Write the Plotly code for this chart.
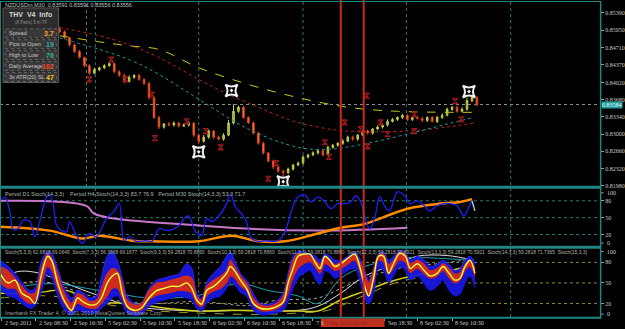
import plotly.graph_objects as go

W, H = 625, 329
FONT = "Liberation Sans"

# ---------------- main price data (NZDUSDm, M30) ----------------
closes = [0.8502, 0.8490, 0.8476, 0.8463, 0.8451, 0.8435, 0.8420, 0.8427, 0.8431, 0.8435,
          0.8439, 0.8423, 0.8416, 0.8404, 0.8412, 0.8416, 0.8408, 0.8400, 0.8372, 0.8333,
          0.8314, 0.8320, 0.8318, 0.8322, 0.8316, 0.8318, 0.8322, 0.8298, 0.8286, 0.8294,
          0.8306, 0.8294, 0.8290, 0.8298, 0.8322, 0.8345, 0.8353, 0.8333, 0.8322, 0.8302,
          0.8282, 0.8263, 0.8247, 0.8235, 0.8227, 0.8224, 0.8231, 0.8239, 0.8243, 0.8255,
          0.8259, 0.8263, 0.8267, 0.8259, 0.8274, 0.8278, 0.8282, 0.8286, 0.8294, 0.8290,
          0.8298, 0.8306, 0.8302, 0.8310, 0.8314, 0.8318, 0.8325, 0.8329, 0.8333, 0.8337,
          0.8329, 0.8333, 0.8331, 0.8327, 0.8333, 0.8325, 0.8333, 0.8337, 0.8349, 0.8353,
          0.8345, 0.8349, 0.8366, 0.8372, 0.8358]
wick_up_pips = [4, 3, 2, 3, 3, 2, 3, 4, 2, 3, 3, 2, 3, 3, 4, 2, 3, 2, 4, 3,
                3, 2, 4, 3, 2, 3, 3, 2, 3, 4, 3, 2, 3, 4, 6, 14, 3, 3, 2, 3,
                3, 3, 2, 3, 2, 3, 3, 2, 3, 3, 2, 3, 3, 2, 3, 3, 2, 4, 3, 3,
                2, 3, 3, 2, 3, 3, 4, 3, 2, 3, 3, 2, 3, 3, 2, 3, 3, 4, 3, 2,
                3, 4, 6, 5, 3]
wick_dn_pips = [3, 3, 4, 3, 2, 3, 3, 2, 3, 3, 2, 3, 3, 4, 2, 3, 3, 3, 4, 3,
                4, 3, 2, 3, 3, 2, 3, 4, 6, 3, 3, 3, 2, 3, 2, 3, 3, 3, 2, 3,
                3, 3, 3, 4, 3, 8, 3, 3, 2, 3, 3, 2, 3, 3, 2, 3, 3, 3, 2, 3,
                3, 2, 3, 3, 2, 3, 3, 2, 3, 3, 3, 3, 2, 3, 3, 2, 3, 3, 2, 3,
                3, 2, 3, 3, 3]
first_open = 0.8508
bar_x = list(range(12, 12 + len(closes)))
opens = [first_open] + closes[:-1]
highs = [max(o, c) + u * 1e-4 for o, c, u in zip(opens, closes, wick_up_pips)]
lows = [min(o, c) - d * 1e-4 for o, c, d in zip(opens, closes, wick_dn_pips)]

# moving averages
ma_yellow_x = [12, 20, 26, 32, 40, 50, 60, 70, 80, 95.4]
ma_yellow_v = [0.8494, 0.8482, 0.8474, 0.8467, 0.8431, 0.8398, 0.8372, 0.8353, 0.8345, 0.8343]
ma_red_x = [12, 20, 26, 32, 40, 46, 52, 58, 64, 70, 82, 90, 95.4]
ma_red_v = [0.8510, 0.8494, 0.8476, 0.8451, 0.8408, 0.8378, 0.8353, 0.8329, 0.8314, 0.8306, 0.8306, 0.8314, 0.8322]
ma_cyan_x = [12, 20, 26, 31.4, 40, 50, 60, 66, 72, 82, 90, 95.4]
ma_cyan_v = [0.8490, 0.8467, 0.8447, 0.8421, 0.8369, 0.8310, 0.8274, 0.8270, 0.8278, 0.8300, 0.8320, 0.8333]

# signal markers
big_mark_x = [46.6, 40, 57, 94.4]
big_mark_v = [0.8386, 0.8265, 0.8206, 0.8384]
small_mark_x = [22.4, 18, 25.2, 30.6, 31.2, 37.6, 41.4, 44.4, 54, 55.6, 65.4, 66.2, 73.8,
                69.4, 76.6, 72.6, 78, 74, 83.4, 83.4, 91.6, 92.8]
small_mark_v = [0.8447, 0.8408, 0.8408, 0.8378, 0.8292, 0.8325, 0.8306, 0.8274, 0.8212, 0.8243,
                0.8284, 0.8255, 0.8376, 0.8323, 0.8323, 0.8310, 0.8300, 0.8276, 0.8339, 0.8306,
                0.8365, 0.8329]

current_price = 0.83584
price_ticks = [0.85390, 0.85050, 0.84710, 0.84370, 0.84020, 0.83680, 0.83340,
               0.83000, 0.82660, 0.82320, 0.81980]

# ---------------- sub window 1: multi-period stochastic ----------------
m30_x = [0.4, 1, 2, 2.6, 3.6, 4.6, 6, 7, 8, 9, 9.8, 10.6, 11.4, 12.4, 13.4, 14, 15.4, 16.6, 18, 19.4,
         21.4, 23, 24, 25, 26, 27.4, 29.4, 30.6, 32, 34, 36, 37.4, 38, 39.4, 40.6, 41.6, 42.6, 44, 45.4, 46.4,
         47.4, 48.6, 49.6, 50.6, 52, 53.4, 54.6, 56, 57.4, 58.6, 60, 61.4, 62.6, 64, 65.4, 66.6, 68, 69.4, 70.6, 71.6,
         72.6, 73.4, 74.4, 75.4, 76.4, 77.4, 78.4, 80, 81.4, 82.6, 84, 85.4, 86.4, 88, 89.4, 90.6, 92, 93.4, 94.4, 95]
m30_v = [83, 87, 60, 30, 30, 45, 43, 16, 43, 78, 92, 78, 36, 27, 25, 43, 18, 4, 22, 16,
         48, 62, 75, 9, 16, 8, 9, 8, 30, 27, 36, 52, 53, 25, 18, 48, 43, 53, 71, 92,
         69, 57, 43, 13, 8, 9, 8, 9, 25, 60, 87, 90, 78, 87, 78, 66, 75, 75, 78, 89,
         78, 53, 30, 48, 87, 71, 62, 96, 89, 75, 80, 71, 62, 71, 75, 75, 71, 53, 69, 80]
m30_tail_x = [95, 95.6]
m30_tail_v = [80, 62]
d1_x = [0, 17.4, 19, 40, 64, 82]
d1_v = [80, 71, 57, 36, 27, 32]
h4_x = [0, 10, 16.6, 20, 26.6, 30.6, 40, 46.6, 52, 57.4, 64, 68.6, 73.4, 82, 88.6, 92.6, 95]
h4_v = [34, 27, 13, 18, 9, 8, 8, 18, 8, 8, 22, 32, 39, 66, 75, 78, 83]

# ---------------- sub window 2: stochastic ribbon ----------------
rib_x = [0, 1.6, 3, 4.4, 6, 7, 8.4, 9.6, 10.4, 11.6, 13, 14.4, 15.6, 16.8, 18, 19.4, 20.4, 21.6, 22.6, 23.6,
         24.6, 25.6, 27, 28.4, 30, 31.6, 33, 34.4, 36, 37.6, 38.6, 39.6, 40.6, 41.6, 43, 44.4, 45.6, 46.4, 47.2, 48.4,
         49.6, 51, 52.4, 54, 55.6, 57, 58, 59, 60, 61.2, 62.4, 63.6, 64.4, 65.4, 66.4, 67.4, 68.6, 70, 71.4, 72.4,
         73.4, 74.2, 75.2, 76.2, 77.2, 78.2, 79.2, 80.4, 81.6, 82.6, 84, 85.4, 86.6, 88, 89.2, 90.4, 91.6, 92.6, 93.6, 94.6,
         95.6]
blue_hi = [83, 74, 64, 50, 39, 42, 83, 96, 93, 71, 42, 28, 39, 35, 28, 31, 57, 89, 95, 83,
           57, 31, 20, 20, 42, 54, 57, 60, 63, 78, 71, 35, 28, 50, 64, 74, 89, 95, 83, 64,
           54, 34, 20, 19, 23, 35, 64, 89, 96, 95, 92, 89, 83, 92, 89, 83, 83, 89, 95, 86,
           68, 54, 71, 93, 95, 83, 89, 97, 95, 83, 89, 83, 74, 77, 83, 77, 68, 71, 83, 89, 78]
red_hi = [74, 68, 57, 45, 34, 35, 74, 92, 86, 64, 35, 20, 34, 31, 23, 25, 42, 64, 71, 68,
          50, 25, 18, 19, 39, 50, 51, 54, 57, 60, 57, 31, 25, 45, 54, 60, 68, 83, 74, 60,
          50, 28, 18, 16, 20, 31, 57, 83, 93, 92, 89, 83, 77, 89, 83, 77, 80, 86, 92, 81,
          63, 50, 68, 90, 92, 77, 83, 95, 92, 78, 83, 77, 68, 71, 78, 71, 63, 65, 77, 83, 71]
red_lo = [50, 42, 42, 28, 20, 23, 50, 74, 68, 42, 20, 9, 20, 16, 13, 13, 20, 31, 42, 42,
          28, 13, 9, 10, 25, 32, 34, 36, 39, 38, 35, 20, 15, 31, 38, 42, 50, 60, 57, 45,
          39, 18, 10, 9, 12, 19, 35, 57, 71, 78, 81, 71, 64, 78, 74, 68, 71, 77, 83, 68,
          42, 31, 50, 83, 80, 63, 71, 83, 80, 65, 71, 63, 57, 60, 68, 57, 50, 54, 68, 74, 60]
blue_lo = [42, 31, 28, 20, 13, 16, 39, 64, 57, 31, 10, 3, 10, 7, 6, 6, 13, 20, 28, 31,
           20, 6, 3, 4, 16, 22, 25, 28, 31, 28, 25, 13, 9, 20, 28, 31, 42, 52, 47, 36,
           31, 10, 4, 4, 6, 10, 23, 42, 57, 64, 68, 54, 48, 68, 64, 57, 61, 68, 71, 54,
           28, 19, 35, 71, 68, 50, 60, 74, 68, 54, 60, 48, 39, 45, 54, 39, 31, 34, 50, 60, 42]
fast_yel = [64, 50, 54, 35, 28, 20, 64, 89, 83, 50, 23, 10, 28, 22, 18, 19, 28, 50, 60, 64,
            35, 16, 10, 13, 28, 39, 42, 45, 45, 50, 42, 25, 19, 39, 45, 54, 64, 74, 68, 54,
            42, 20, 13, 12, 15, 22, 50, 71, 89, 92, 92, 78, 71, 89, 83, 74, 78, 86, 92, 74,
            45, 31, 57, 89, 89, 64, 78, 93, 89, 71, 78, 68, 60, 64, 74, 64, 54, 57, 74, 83, 64]
slow_white_x = [0, 4, 8, 13.4, 20, 26.6, 40, 50, 60, 64, 68.6, 73.4, 80, 84, 90, 95.4]
slow_white_v = [57, 67, 64, 49, 31, 16, 9, 10, 10, 16, 35, 60, 78, 89, 90, 83]
slow_grey_x = [0, 8, 20, 30, 40, 50, 56, 64, 68.6, 73.4, 82, 88, 93.4]
slow_grey_v = [42, 52, 28, 20, 23, 17, 25, 28, 42, 57, 74, 78, 83]
slow_cyan_x = [0, 10, 20, 30, 40, 48, 54, 60, 64, 68.6, 73.4, 78.6, 82, 94.6]
slow_cyan_v = [39, 49, 39, 28, 32, 49, 39, 31, 20, 57, 74, 83, 87, 83]
slow_yel1_x = [0, 6.6, 13.4, 18.6, 26.6, 33.4, 40, 46.6, 53.4, 60, 64, 68.6, 73.4, 78.6, 83.4, 90, 94.6]
slow_yel1_v = [35, 35, 39, 23, 20, 13, 9, 10, 9, 9, 9, 25, 38, 52, 61, 67, 75]
slow_yel2_x = [0, 10, 20, 30, 40, 52, 60, 66, 73.4, 80, 90, 94.6]
slow_yel2_v = [28, 31, 20, 10, 6, 4, 6, 10, 32, 51, 65, 71]

osc_ticks = [80, 50, 20]
osc_levels = [80, 50, 20]

# time axis (the 7 Sep 10:30 label sits under the highlighted date box and is not shown)
time_pos = [0.4, 7.2, 14.2, 21.2, 28.2, 35.2, 42.2, 49.2, 56.2, 63, 77.4, 84, 91]
time_labels = ["2 Sep 2011", "2 Sep 08:30", "2 Sep 16:30", "5 Sep 02:30", "5 Sep 10:30",
               "5 Sep 18:30", "6 Sep 02:30", "6 Sep 10:30", "6 Sep 18:30", "7 S",
               "Sep 18:30", "8 Sep 02:30", "8 Sep 10:30"]
day_grid = [19.2, 40, 61, 81.8, 102.8]
session_line = 17.4
red_vlines = [68.6, 73.2]

# ---------------- figure ----------------
def py(p):
    return 1 - p / H

def px(p):
    return p / W

TEAL = "#1F8585"
fig = go.Figure()

fig.add_trace(go.Scatter(x=ma_yellow_x, y=ma_yellow_v, mode="lines", line=dict(color="#C8C81E", width=1, dash="dash", shape="spline"), xaxis="x", yaxis="y", hoverinfo="skip"))
fig.add_trace(go.Scatter(x=ma_red_x, y=ma_red_v, mode="lines", line=dict(color="#B0281E", width=1, dash="dot", shape="spline"), xaxis="x", yaxis="y", hoverinfo="skip"))
fig.add_trace(go.Scatter(x=ma_cyan_x, y=ma_cyan_v, mode="lines", line=dict(color="#1E9A9A", width=1, dash="dot", shape="spline"), xaxis="x", yaxis="y", hoverinfo="skip"))

fig.add_trace(go.Candlestick(
    x=bar_x, open=opens, high=highs, low=lows, close=closes, xaxis="x", yaxis="y",
    increasing=dict(line=dict(color="#C8D040", width=1), fillcolor="#7AB048"),
    decreasing=dict(line=dict(color="#E0401C", width=1), fillcolor="#FF9020"),
    whiskerwidth=0, hoverinfo="skip"))

fig.add_trace(go.Scatter(x=small_mark_x, y=small_mark_v, mode="markers", xaxis="x", yaxis="y",
                         marker=dict(symbol="hourglass-open", size=5, color="#A01A1A", line=dict(width=1.2, color="#A01A1A")), hoverinfo="skip"))
fig.add_trace(go.Scatter(x=big_mark_x, y=big_mark_v, mode="markers", xaxis="x", yaxis="y",
                         marker=dict(symbol="star-square-open-dot", size=11, color="#F0F0F0", line=dict(width=2, color="#E8E8E8")), hoverinfo="skip"))

# sub 1
fig.add_trace(go.Scatter(x=d1_x, y=d1_v, mode="lines", line=dict(color="#C878C8", width=2, shape="spline"), xaxis="x2", yaxis="y2", hoverinfo="skip"))
fig.add_trace(go.Scatter(x=h4_x, y=h4_v, mode="lines", line=dict(color="#FF8C00", width=2.5, shape="spline"), xaxis="x2", yaxis="y2", hoverinfo="skip"))
fig.add_trace(go.Scatter(x=m30_x, y=m30_v, mode="lines", line=dict(color="#1E1EFF", width=1.3, shape="spline"), xaxis="x2", yaxis="y2", hoverinfo="skip"))
fig.add_trace(go.Scatter(x=m30_tail_x, y=m30_tail_v, mode="lines", line=dict(color="#A0E0F0", width=1.3), xaxis="x2", yaxis="y2", hoverinfo="skip"))

# sub 2
fig.add_trace(go.Scatter(x=slow_white_x, y=slow_white_v, mode="lines", line=dict(color="#E0E0E0", width=1, shape="spline"), xaxis="x3", yaxis="y3", hoverinfo="skip"))
fig.add_trace(go.Scatter(x=slow_grey_x, y=slow_grey_v, mode="lines", line=dict(color="#A8A8A8", width=1, dash="dot", shape="spline"), xaxis="x3", yaxis="y3", hoverinfo="skip"))
fig.add_trace(go.Scatter(x=slow_cyan_x, y=slow_cyan_v, mode="lines", line=dict(color="#1EA0B4", width=1, shape="spline"), xaxis="x3", yaxis="y3", hoverinfo="skip"))
fig.add_trace(go.Scatter(x=slow_yel1_x, y=slow_yel1_v, mode="lines", line=dict(color="#D0D020", width=1.5, shape="spline"), xaxis="x3", yaxis="y3", hoverinfo="skip"))
fig.add_trace(go.Scatter(x=slow_yel2_x, y=slow_yel2_v, mode="lines", line=dict(color="#A0A018", width=1, dash="dash", shape="spline"), xaxis="x3", yaxis="y3", hoverinfo="skip"))
fig.add_trace(go.Scatter(x=rib_x, y=blue_lo, mode="lines", line=dict(color="#1414E6", width=1, shape="spline"), xaxis="x3", yaxis="y3", hoverinfo="skip"))
fig.add_trace(go.Scatter(x=rib_x, y=blue_hi, mode="lines", fill="tonexty", fillcolor="rgba(24,24,230,0.92)", line=dict(color="#2828FF", width=1, shape="spline"), xaxis="x3", yaxis="y3", hoverinfo="skip"))
fig.add_trace(go.Scatter(x=rib_x, y=red_lo, mode="lines", line=dict(color="#D02814", width=1, shape="spline"), xaxis="x3", yaxis="y3", hoverinfo="skip"))
fig.add_trace(go.Scatter(x=rib_x, y=red_hi, mode="lines", fill="tonexty", fillcolor="rgba(214,44,20,0.95)", line=dict(color="#E03018", width=1, shape="spline"), xaxis="x3", yaxis="y3", hoverinfo="skip"))
fig.add_trace(go.Scatter(x=rib_x, y=fast_yel, mode="lines", line=dict(color="#FFFF3C", width=1.4, shape="spline"), xaxis="x3", yaxis="y3", hoverinfo="skip"))

XR = [0, 120.8]
XD = [0, 604 / W]
tickfont = dict(family="Liberation Serif", size=6, color="#C8C8C8")

fig.update_layout(
    width=W, height=H, margin=dict(l=0, r=0, t=0, b=0),
    paper_bgcolor="black", plot_bgcolor="black", showlegend=False, boxgap=0.55,
    xaxis=dict(domain=XD, range=XR, anchor="y", showticklabels=False, showgrid=False, zeroline=False,
               ticks="", rangeslider=dict(visible=False), fixedrange=True),
    xaxis2=dict(domain=XD, range=XR, anchor="y2", matches="x", showticklabels=False, showgrid=False, zeroline=False, ticks=""),
    xaxis3=dict(domain=XD, range=XR, anchor="y3", matches="x", showticklabels=False, showgrid=False, zeroline=False,
                tickvals=time_pos, ticks="outside", ticklen=3, tickcolor="#A0A0A0", tickwidth=1),
    yaxis=dict(domain=[py(188), py(2)], range=[0.81960, 0.85606], anchor="x", side="right",
               tickvals=price_ticks, ticktext=[f"{v:.5f}" for v in price_ticks],
               ticks="outside", ticklen=3, tickcolor="#A0A0A0", tickfont=tickfont,
               showgrid=False, zeroline=False, showline=False),
    yaxis2=dict(domain=[py(247.3), py(190.7)], range=[0, 100], anchor="x2", side="right",
                tickvals=osc_ticks, ticktext=[str(v) for v in osc_ticks],
                ticks="outside", ticklen=3, tickcolor="#A0A0A0", tickfont=tickfont,
                showgrid=False, zeroline=False),
    yaxis3=dict(domain=[py(319.1), py(250.2)], range=[0, 100], anchor="x3", side="right",
                tickvals=osc_ticks, ticktext=[str(v) for v in osc_ticks],
                ticks="outside", ticklen=3, tickcolor="#A0A0A0", tickfont=tickfont,
                showgrid=False, zeroline=False),
)

shapes = []
for gx in day_grid:
    shapes.append(dict(type="line", xref="x", yref="paper", x0=gx, x1=gx, y0=py(319), y1=py(2),
                       line=dict(color="#2A7A7A", width=1, dash="dot"), layer="below"))
shapes.append(dict(type="line", xref="x", yref="paper", x0=session_line, x1=session_line, y0=py(188), y1=py(2),
                   line=dict(color="#6A7A7A", width=1, dash="dot"), layer="below"))
for lv in osc_levels:
    shapes.append(dict(type="line", xref="paper", yref="y2", x0=0, x1=XD[1], y0=lv, y1=lv,
                       line=dict(color="#2A7A7A", width=1, dash="dot"), layer="below"))
    shapes.append(dict(type="line", xref="paper", yref="y3", x0=0, x1=XD[1], y0=lv, y1=lv,
                       line=dict(color="#8A8A30", width=1, dash="dot"), layer="below"))
shapes.append(dict(type="line", xref="paper", yref="y", x0=0, x1=XD[1], y0=current_price, y1=current_price,
                   line=dict(color="#8C8C8C", width=1, dash="dot"), layer="below"))
for rx in red_vlines:
    shapes.append(dict(type="line", xref="x", yref="paper", x0=rx, x1=rx, y0=py(319), y1=py(0),
                       line=dict(color="#C82A1E", width=2), layer="above"))
for yy, wd in [(1.5, 1), (188.5, 3), (248.7, 3), (319.6, 2)]:
    shapes.append(dict(type="line", xref="paper", yref="paper", x0=0, x1=px(605), y0=py(yy), y1=py(yy),
                       line=dict(color=TEAL, width=wd), layer="above"))
shapes.append(dict(type="line", xref="paper", yref="paper", x0=px(604.5), x1=px(604.5), y0=py(320.5), y1=py(1),
                   line=dict(color=TEAL, width=1.5), layer="above"))
shapes.append(dict(type="line", xref="paper", yref="paper", x0=px(0.5), x1=px(0.5), y0=py(320.5), y1=py(1),
                   line=dict(color=TEAL, width=1), layer="above"))
for yy in [194, 244.5, 253, 316]:
    shapes.append(dict(type="line", xref="paper", yref="paper", x0=px(605), x1=px(607.5), y0=py(yy), y1=py(yy),
                       line=dict(color="#A0A0A0", width=1), layer="above"))
# highlighted date box on the time axis
shapes.append(dict(type="rect", xref="paper", yref="paper", x0=px(323), x1=px(387), y0=py(329), y1=py(320.5),
                   fillcolor="#C0301E", line=dict(width=0), layer="above"))

shapes.append(dict(type="rect", xref="paper", yref="paper", x0=px(3), x1=px(59), y0=py(83), y1=py(8),
                   fillcolor="#2C2C2C", line=dict(color="#5A5A5A", width=1), layer="above"))
rows = [(29, 38), (40, 49), (51, 60), (62, 71), (73, 82)]
for r0, r1 in rows:
    shapes.append(dict(type="rect", xref="paper", yref="paper", x0=px(5), x1=px(57), y0=py(r1), y1=py(r0),
                       fillcolor="#383838", line=dict(color="#666666", width=1, dash="dot"), layer="above"))
fig.update_layout(shapes=shapes)

ann = []
def text(x, y, s, size=5.5, color="#B8B8B8", anchor="left", family=FONT, bold=False):
    ann.append(dict(xref="paper", yref="paper", x=px(x), y=py(y), text=(f"<b>{s}</b>" if bold else s),
                    showarrow=False, xanchor=anchor, yanchor="middle",
                    font=dict(family=family, size=size, color=color)))

text(3, 5, "NZDUSDm,M30  0.83591 0.83591 0.83556 0.83556", size=5.5, color="#C0C0C0")
text(31, 15, "THV  V4  Info", size=7, color="#D8D8D8", anchor="center", bold=True)
text(31, 23, "(8 Pairs) 5 in TF", size=4.5, color="#909090", anchor="center")
labels = ["Spread", "Pips to Open", "High to Low", "Daily Average", "3x ATR(20) SL"]
values = ["3.7", "19", "76", "102", "47"]
vcolors = ["#FFA020", "#2AB0A0", "#2AB0A0", "#FF4A2A", "#F0C020"]
for (r0, r1), lb, vv, vc in zip(rows, labels, values, vcolors):
    text(7, (r0 + r1) / 2, lb, size=5.5, color="#C8C8C8")
    text(56, (r0 + r1) / 2, vv, size=7, color=vc, anchor="right", bold=True)

text(3, 195, "Period D1 Stoch(14,3,3)    Period H4 Stoch(14,3,3) 83.7 76.9   Period M30 Stoch(14,3,3) 53.3 71.7",
     size=5.5, color="#A8B8A8")
text(3, 254, "Stoch(5,3,3) 62.6818 69.0646  Stoch(7,3,3) 56.3868 69.1677  Stoch(9,3,3) 59.2818 70.8860  "
             "Stoch(10,3,3) 59.2818 70.8860  Stoch(11,3,3) 59.2818 70.8860  Stoch(12,3,3) 59.2818 70.8921  "
             "Stoch(13,3,3) 59.2818 70.5921  Stoch(14,3,3) 59.2818 71.7365  Stoch(15,3,3)",
     size=4.9, color="#A8B8A8")
text(3, 315, "Interbank FX Trader 4, © 2001-2010 MetaQuotes Software Corp.", size=5.5, color="#A0A0A0")

for yy, s in [(194, "100"), (244.5, "0"), (253.5, "100"), (316, "0")]:
    text(608.5, yy, s, size=6, color="#C8C8C8", family="Liberation Serif")

for tp, tl in zip(time_pos, time_labels):
    ann.append(dict(xref="x3", yref="paper", x=tp, y=py(324.5), text=tl, showarrow=False,
                    xanchor="left", yanchor="middle", xshift=1,
                    font=dict(family="Liberation Serif", size=6, color="#C8C8C8")))
text(325, 324.5, "7 Sep 2011 05:00", size=6, color="#8A2014", family="Liberation Serif")
ann.append(dict(xref="paper", yref="y", x=px(605), y=current_price, text="0.83584", showarrow=False,
                xanchor="left", yanchor="middle", bgcolor="#1A9A9A", borderpad=0,
                font=dict(family="Liberation Serif", size=6, color="#E8FFFF")))
fig.update_layout(annotations=ann)

fig.write_html("out.html")
